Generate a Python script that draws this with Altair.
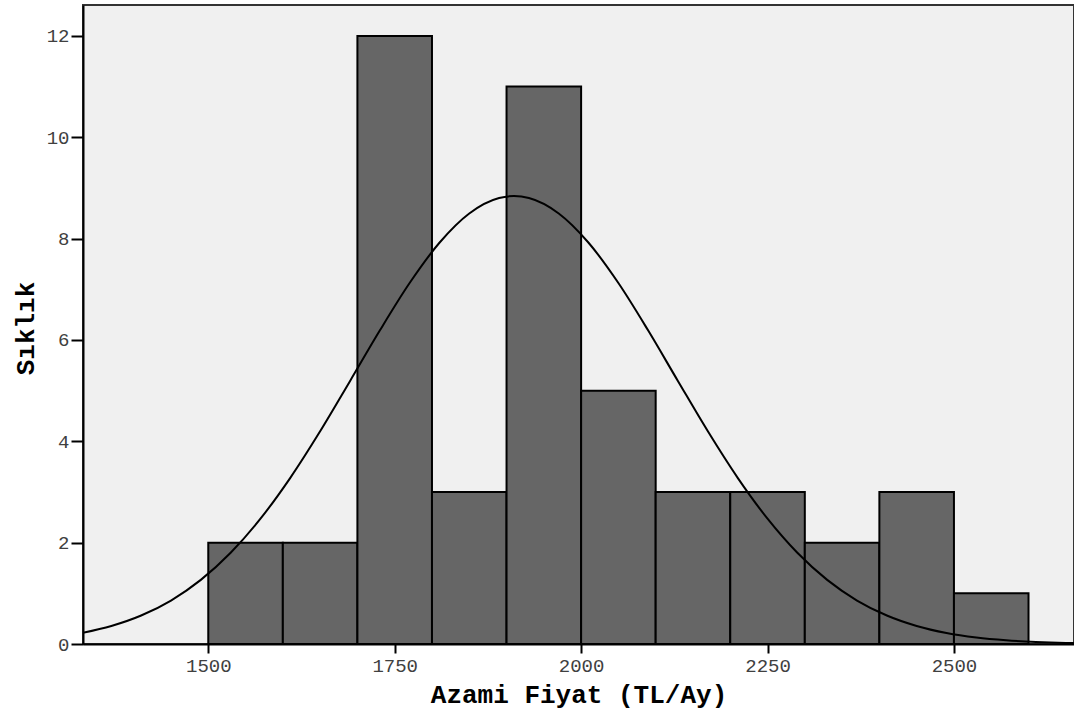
import altair as alt
import pandas as pd

# Histogram bins (TL/Ay) and frequencies
bin_start = [1500, 1600, 1700, 1800, 1900, 2000, 2100, 2200, 2300, 2400, 2500]
bin_end = [1600, 1700, 1800, 1900, 2000, 2100, 2200, 2300, 2400, 2500, 2600]
counts = [2, 2, 12, 3, 11, 5, 3, 3, 2, 3, 1]

# Normal curve points
curve_x = [1330, 1370, 1410, 1450, 1490, 1530, 1570, 1610, 1650, 1690, 1730, 1770,
           1810, 1850, 1890, 1910, 1930, 1970, 2010, 2050, 2090, 2130, 2170, 2210,
           2250, 2290, 2330, 2370, 2410, 2450, 2490, 2530, 2570, 2610, 2650, 2665]
curve_y = [0.217, 0.356, 0.562, 0.858, 1.265, 1.800, 2.473, 3.279, 4.197, 5.186, 6.185, 7.123,
           7.918, 8.496, 8.801, 8.84, 8.801, 8.496, 7.918, 7.123, 6.185, 5.186, 4.197, 3.279,
           2.473, 1.800, 1.265, 0.858, 0.562, 0.356, 0.217, 0.128, 0.073, 0.040, 0.021, 0.017]

x_ticks = [1500, 1750, 2000, 2250, 2500]
y_ticks = [0, 2, 4, 6, 8, 10, 12]

bars_df = pd.DataFrame({"start": bin_start, "end": bin_end, "count": counts})
curve_df = pd.DataFrame({"x": curve_x, "y": curve_y})

xscale = alt.Scale(domain=[1332, 2661], nice=False, zero=False)
yscale = alt.Scale(domain=[0, 12.61], nice=False, zero=True)

label_font = "Liberation Mono"

x_axis = alt.Axis(
    values=x_ticks, format="d", title="Azami Fiyat (TL/Ay)",
    grid=False, domainColor="black", domainWidth=2,
    tickColor="black", tickWidth=2, tickSize=9,
    labelFont=label_font, labelFontSize=19, labelColor="#404040", labelPadding=3,
    titleFont=label_font, titleFontSize=26, titleFontWeight="bold", titleColor="black",
    titleY=50, titleBaseline="middle",
)
y_axis = alt.Axis(
    values=y_ticks, format="d", title="Sıklık",
    grid=False, domainColor="black", domainWidth=2,
    tickColor="black", tickWidth=2, tickSize=12,
    labelFont=label_font, labelFontSize=19, labelColor="#404040", labelPadding=2,
    titleFont=label_font, titleFontSize=26, titleFontWeight="bold", titleColor="black",
    titleAngle=-90, titleX=-58, titleY=323, titleBaseline="middle", titleAlign="center",
)

bars = alt.Chart(bars_df).mark_rect(
    fill="#666666", stroke="black", strokeWidth=2
).encode(
    x=alt.X("start:Q", scale=xscale, axis=x_axis),
    x2="end:Q",
    y=alt.Y("count:Q", scale=yscale, axis=y_axis),
    y2=alt.datum(0),
)

curve = alt.Chart(curve_df).mark_line(
    color="black", strokeWidth=2, interpolate="monotone", clip=True
).encode(
    x=alt.X("x:Q", scale=xscale),
    y=alt.Y("y:Q", scale=yscale),
)

chart = alt.layer(bars, curve).properties(
    width=991, height=639,
    autosize=alt.AutoSizeParams(type="none"),
    padding={"left": 83, "top": 5, "right": 0, "bottom": 67},
    background="white",
).configure_view(
    fill="#f0f0f0", stroke="#333333", strokeWidth=2
)

chart.save("out.html", embed_options={"renderer": "svg", "actions": False})
